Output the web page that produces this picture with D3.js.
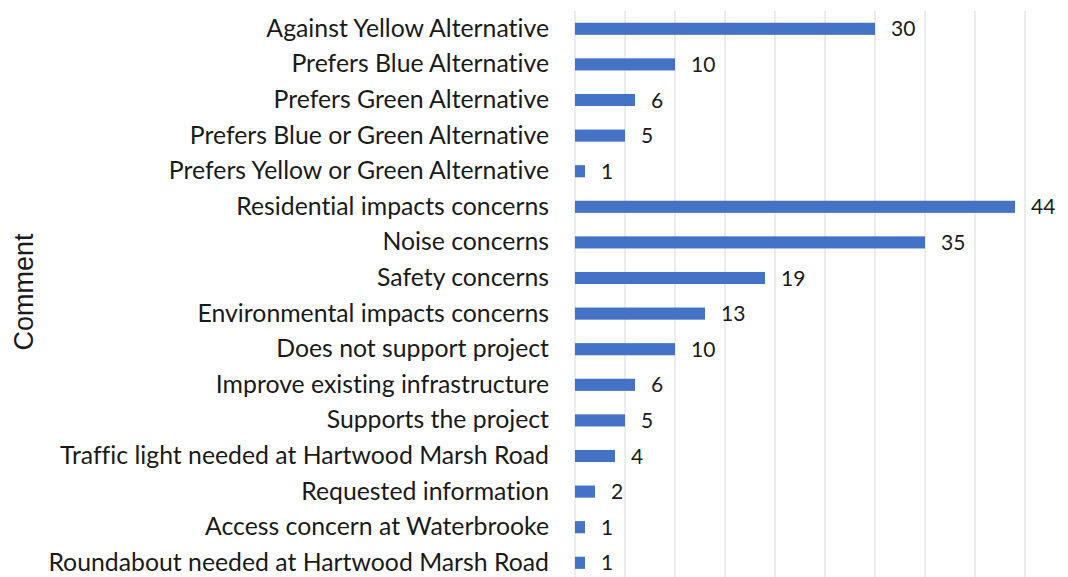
<!DOCTYPE html>
<html>
<head>
<meta charset="utf-8">
<script src="https://cdn.jsdelivr.net/npm/d3@7"></script>
<style>
  body { margin: 0; background: #fff; }
  svg { display: block; }
  text { font-variant-ligatures: none; font-feature-settings: "liga" 0, "dlig" 0; }
</style>
</head>
<body>
<svg width="1068" height="577"></svg>
<script>
const categories = [
  "Against Yellow Alternative",
  "Prefers Blue Alternative",
  "Prefers Green Alternative",
  "Prefers Blue or Green Alternative",
  "Prefers Yellow or Green Alternative",
  "Residential impacts concerns",
  "Noise concerns",
  "Safety concerns",
  "Environmental impacts concerns",
  "Does not support project",
  "Improve existing infrastructure",
  "Supports the project",
  "Traffic light needed at Hartwood Marsh Road",
  "Requested information",
  "Access concern at Waterbrooke",
  "Roundabout needed at Hartwood Marsh Road"
];
const counts = [30, 10, 6, 5, 1, 44, 35, 19, 13, 10, 6, 5, 4, 2, 1, 1];
const gridTicks = [0, 5, 10, 15, 20, 25, 30, 35, 40, 45];

const svg = d3.select("svg");
const plotLeft = 575;
const plotTop = 11;
const rowStep = 35.6;

const x = d3.scaleLinear()
  .domain([0, 45])
  .range([plotLeft, plotLeft + 450]);

const y = d3.scaleBand()
  .domain(categories)
  .range([plotTop, plotTop + rowStep * categories.length])
  .paddingInner(0.66)
  .paddingOuter(0.33);

// grid
svg.append("g")
  .selectAll("line")
  .data(gridTicks)
  .enter()
  .append("line")
  .attr("x1", d => x(d))
  .attr("x2", d => x(d))
  .attr("y1", plotTop)
  .attr("y2", 577)
  .attr("stroke", "#d9d9d9")
  .attr("stroke-width", 1);

// bars
svg.append("g")
  .selectAll("rect")
  .data(counts)
  .enter()
  .append("rect")
  .attr("x", x(0))
  .attr("y", (d, i) => y(categories[i]))
  .attr("width", d => x(d) - x(0))
  .attr("height", y.bandwidth())
  .attr("fill", "#4472c4");

// value labels
svg.append("g")
  .selectAll("text")
  .data(counts)
  .enter()
  .append("text")
  .attr("x", d => x(d) + 16)
  .attr("y", (d, i) => y(categories[i]) + y.bandwidth() / 2)
  .attr("dy", "0.36em")
  .attr("font-family", "Lato, 'Noto Sans', sans-serif")
  .attr("font-size", 21)
  .attr("fill", "#1a1a1a")
  .text(d => d);

// category axis
const yAxis = d3.axisLeft(y).tickSize(0).tickPadding(26);
const gy = svg.append("g")
  .attr("transform", `translate(${plotLeft}, 0)`)
  .call(yAxis);
gy.select(".domain").remove();
gy.selectAll("text")
  .attr("font-family", "Lato, 'Noto Sans', sans-serif")
  .attr("font-size", 24.8)
  .attr("fill", "#1a1a1a");

// axis title
svg.append("text")
  .attr("transform", "translate(33, 292) rotate(-90)")
  .attr("text-anchor", "middle")
  .attr("font-family", "'Liberation Sans', Arial, sans-serif")
  .attr("font-size", 27)
  .attr("fill", "#1a1a1a")
  .text("Comment");
</script>
</body>
</html>
